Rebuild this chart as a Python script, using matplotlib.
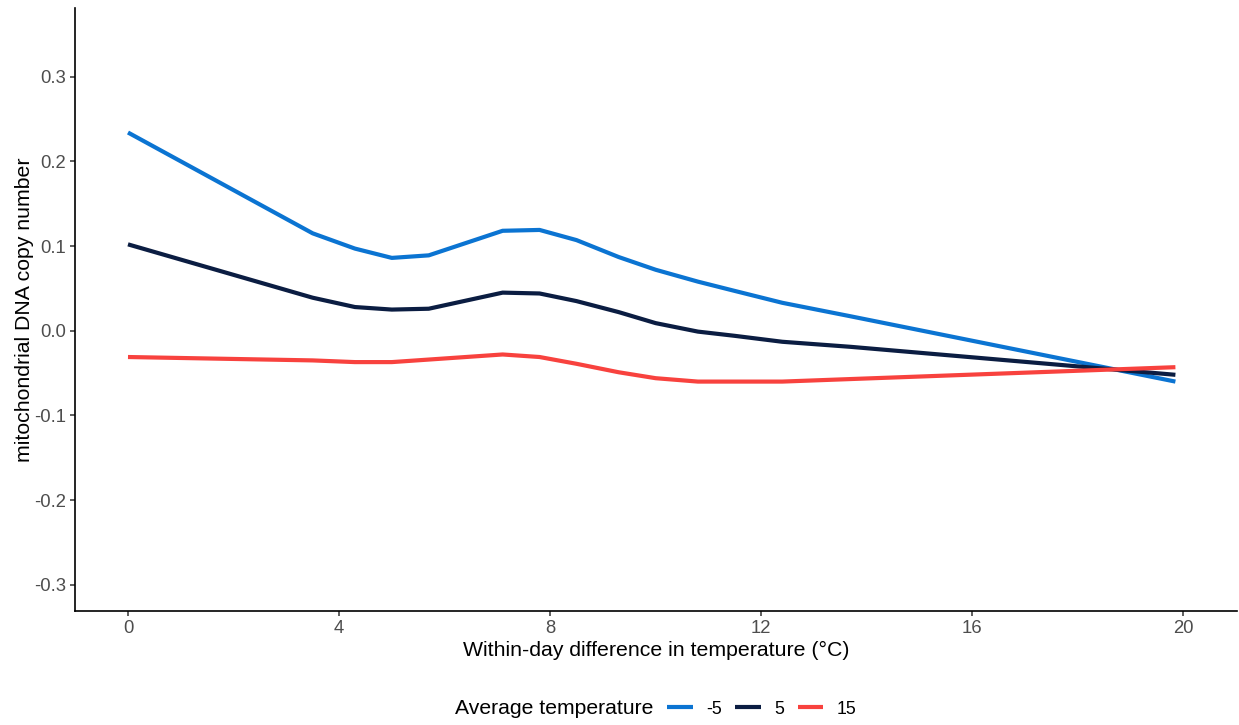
import numpy as np
import matplotlib
matplotlib.use("Agg")
import matplotlib.pyplot as plt

plt.rcParams['font.family'] = ['Liberation Sans', 'DejaVu Sans']

# within-day temperature difference (°C)
diff_temp = [0, 3.5, 4.3, 5.0, 5.7, 7.1, 7.8, 8.5, 9.3, 10.0, 10.8, 11.5,
             12.4, 13.7, 19.85]

# predicted mtDNA copy number by average temperature
mt_minus5 = [0.234, 0.115, 0.097, 0.086, 0.089, 0.118, 0.119, 0.107, 0.087,
             0.072, 0.058, 0.047, 0.033, 0.017, -0.060]
mt_5 = [0.102, 0.039, 0.028, 0.025, 0.026, 0.045, 0.044, 0.035, 0.022,
        0.009, -0.001, -0.006, -0.013, -0.019, -0.052]
mt_15 = [-0.031, -0.035, -0.037, -0.037, -0.034, -0.028, -0.031, -0.039,
         -0.049, -0.056, -0.060, -0.060, -0.060, -0.057, -0.043]

series_labels = ["-5", "5", "15"]
colors = ["#0b74d2", "#0b1d42", "#f8423e"]

x_ticks = [0, 4, 8, 12, 16, 20]
y_ticks = [-0.3, -0.2, -0.1, 0.0, 0.1, 0.2, 0.3]

fig = plt.figure(figsize=(12.39, 7.25), dpi=100)
ax = fig.add_axes([0.0605, 0.157, 0.938, 0.832])

for vals, lab, col in zip([mt_minus5, mt_5, mt_15], series_labels, colors):
    ax.plot(diff_temp, vals, color=col, lw=3, label=lab,
            solid_capstyle="butt")

ax.set_xlim(-1.005, 21.02)
ax.set_ylim(-0.331, 0.381)
ax.set_xticks(x_ticks)
ax.set_yticks(y_ticks)
ax.set_xticklabels([str(t) for t in x_ticks])
ax.set_yticklabels(["%.1f" % t for t in y_ticks])

for side in ["top", "right"]:
    ax.spines[side].set_visible(False)
for side in ["left", "bottom"]:
    ax.spines[side].set_linewidth(1.2)
    ax.spines[side].set_color("black")

ax.tick_params(axis="both", length=3.5, width=1.1, color="#333333",
               labelsize=13.3, labelcolor="#4d4d4d", pad=3)

ax.set_xlabel("Within-day difference in temperature (°C)", fontsize=15.3,
              color="black", labelpad=3)
ax.set_ylabel("mitochondrial DNA copy number", fontsize=15.3,
              color="black", labelpad=0)

fig.text(455 / 1239, 1 - 709 / 725, "Average temperature", fontsize=15.2,
         ha="left", va="center")
handles, labels = ax.get_legend_handles_labels()
fig.legend(handles, labels, loc="center left",
           bbox_to_anchor=(667 / 1239, 1 - 709 / 725), ncol=3,
           frameon=False, fontsize=12.8, handlelength=1.45,
           handletextpad=0.75, columnspacing=0.75, borderaxespad=0,
           borderpad=0)

fig.savefig("out.png", dpi=100)
